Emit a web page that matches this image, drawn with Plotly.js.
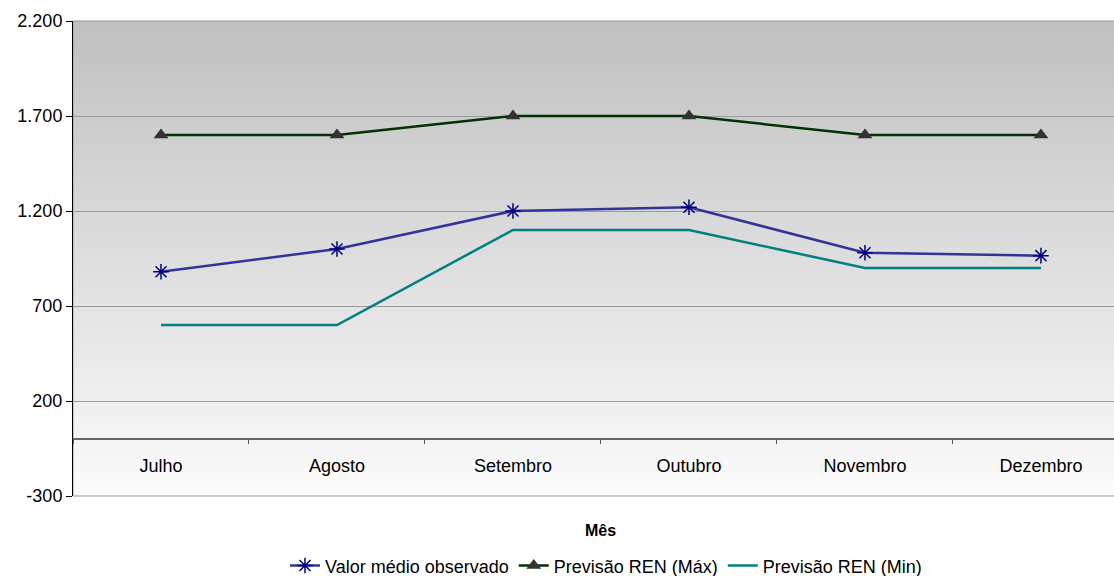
<!DOCTYPE html>
<html>
<head>
<meta charset="utf-8">
<script src="https://cdn.plot.ly/plotly-3.0.1.min.js"></script>
<style>
html,body{margin:0;padding:0;background:#fff;}
#chart{width:1114px;height:576px;}
</style>
</head>
<body>
<div id="chart"></div>
<script>
var months = ["Julho", "Agosto", "Setembro", "Outubro", "Novembro", "Dezembro"];
var valorObservado = [880, 1000, 1200, 1220, 980, 965];
var previsaoMax = [1600, 1600, 1700, 1700, 1600, 1600];
var previsaoMin = [600, 600, 1100, 1100, 900, 900];
var yTickVals = [-300, 200, 700, 1200, 1700, 2200];
var yTickText = ["-300", "200", "700", "1.200", "1.700", "2.200"];

var FONT = "Liberation Sans, Arial, sans-serif";

var bgSvg = '<svg xmlns="http://www.w3.org/2000/svg" width="100" height="100" preserveAspectRatio="none">' +
  '<defs><linearGradient id="g" x1="0" y1="0" x2="0" y2="1">' +
  '<stop offset="0" stop-color="#c0c0c0"/><stop offset="1" stop-color="#fbfbfb"/>' +
  '</linearGradient></defs><rect width="100" height="100" fill="url(#g)"/></svg>';
var bgUri = 'data:image/svg+xml;base64,' + btoa(bgSvg);

var traces = [
  {
    x: months, y: valorObservado, name: "Valor médio observado",
    type: "scatter", mode: "lines+markers",
    line: {color: "#333399", width: 2.5},
    marker: {symbol: "asterisk-open", size: 13, color: "#000080", line: {color: "#000080", width: 1.5}}
  },
  {
    x: months, y: previsaoMax, name: "Previsão REN (Máx)",
    type: "scatter", mode: "lines+markers",
    line: {color: "#003300", width: 2.5},
    marker: {symbol: "triangle-up", size: 13, color: "#333333"}
  },
  {
    x: months, y: previsaoMin, name: "Previsão REN (Min)",
    type: "scatter", mode: "lines",
    line: {color: "#008080", width: 2.5}
  }
];

var layout = {
  width: 1114, height: 576,
  margin: {l: 73, r: 0, t: 21, b: 80, autoexpand: false},
  paper_bgcolor: "#ffffff",
  plot_bgcolor: "rgba(0,0,0,0)",
  font: {family: FONT, size: 18, color: "#000000"},
  showlegend: true,
  legend: {
    orientation: "h", x: 0.512, xanchor: "center", y: -0.147, yanchor: "middle",
    font: {family: FONT, size: 18, color: "#000"}, bgcolor: "rgba(0,0,0,0)",
    itemwidth: 30, tracegroupgap: 0
  },
  xaxis: {
    type: "category",
    anchor: "free", position: 0.12,
    range: [-0.5, 5.415],
    showgrid: false, zeroline: false, showline: false,
    ticks: "outside", tickson: "boundaries", ticklen: 4, tickcolor: "#555555", tickwidth: 1,
    ticklabelstandoff: 14,
    tickfont: {family: FONT, size: 18, color: "#000"}
  },
  yaxis: {
    range: [-300, 2200],
    tickmode: "array", tickvals: yTickVals, ticktext: yTickText,
    showgrid: true, gridcolor: "#9a9a9a", gridwidth: 1,
    zeroline: true, zerolinecolor: "#666666", zerolinewidth: 2,
    showline: true, linecolor: "#000000", linewidth: 1,
    ticks: "outside", ticklen: 6, tickcolor: "#000000",
    tickfont: {family: FONT, size: 18, color: "#000"}
  },
  images: [{
    source: bgUri, xref: "paper", yref: "paper", x: 0, y: 1, sizex: 1, sizey: 1,
    sizing: "stretch", xanchor: "left", yanchor: "top", layer: "below"
  }],
  shapes: [{
    type: "rect", xref: "paper", yref: "paper", x0: 0, x1: 1.02, y0: 0, y1: 1,
    line: {color: "#999999", width: 1}, fillcolor: "rgba(0,0,0,0)", layer: "below"
  }],
  annotations: [{
    text: "<b>Mês</b>", xref: "paper", yref: "paper", x: 0.507, y: -0.072,
    xanchor: "center", yanchor: "middle", showarrow: false,
    font: {family: FONT, size: 16, color: "#000"}
  }]
};

Plotly.newPlot("chart", traces, layout, {displayModeBar: false, staticPlot: true});
</script>
</body>
</html>
